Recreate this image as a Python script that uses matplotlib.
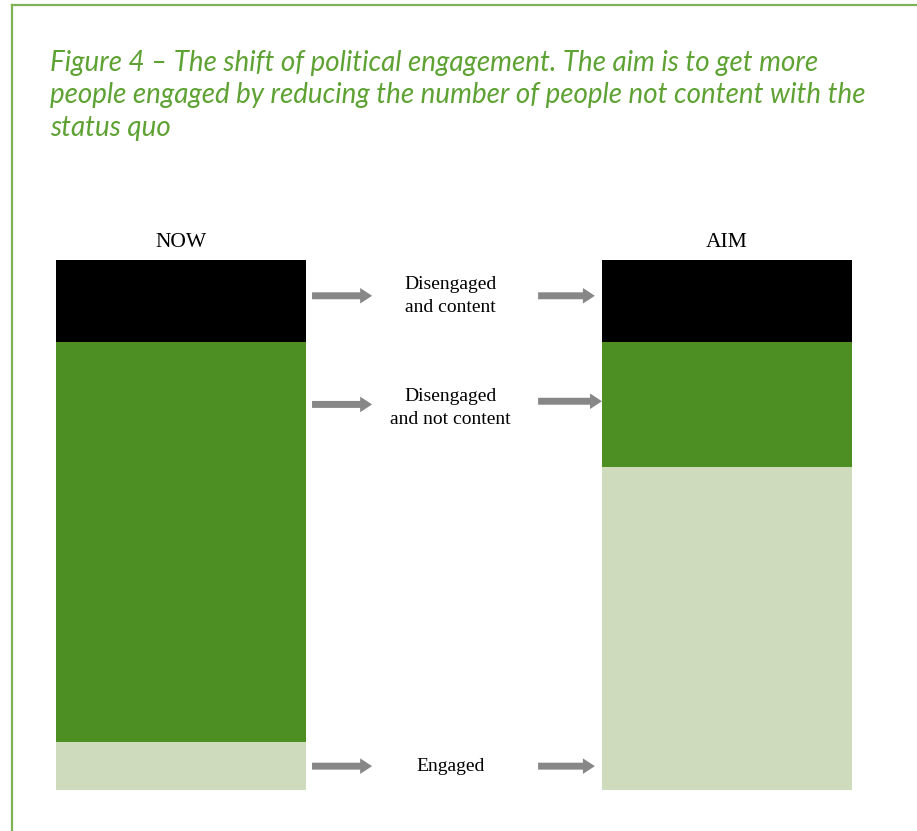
import matplotlib
matplotlib.use("Agg")
import matplotlib.pyplot as plt
from matplotlib.lines import Line2D

# values (share of people, %)
columns = ["NOW", "AIM"]
engaged = [9.0, 61.0]
not_content = [75.5, 23.5]
content = [15.5, 15.5]
labels = ["Disengaged\nand content", "Disengaged\nand not content", "Engaged"]

title = ("Figure 4 \u2013 The shift of political engagement. The aim is to get more\n"
         "people engaged by reducing the number of people not content with the\n"
         "status quo")

c_content = "#000000"
c_not = "#4d8f22"
c_eng = "#cedcbd"
c_arrow = "#878787"
c_title = "#5ea233"

W, H = 917, 831
fig = plt.figure(figsize=(W / 100, H / 100), dpi=100)

# frame lines (top and left)
fig.add_artist(Line2D([12 / W, 12 / W], [0, 1 - 5 / H], color="#7db354", lw=1.6))
fig.add_artist(Line2D([12 / W, 1], [1 - 5 / H, 1 - 5 / H], color="#7db354", lw=1.6))

fig.text(50 / W, 1 - 50 / H, title, color=c_title, fontsize=20, family="Lato",
         style="italic", va="top", ha="left", linespacing=1.3)

ax = fig.add_axes([0, 41 / H, 1, 530 / H])
x = [0, 1]
wd = 250 / 546
ax.bar(x, engaged, width=wd, color=c_eng)
ax.bar(x, not_content, width=wd, bottom=engaged, color=c_not)
bot2 = [e + n for e, n in zip(engaged, not_content)]
ax.bar(x, content, width=wd, bottom=bot2, color=c_content)
ax.set_xlim(-181 / 546, 1 + 190 / 546)
ax.set_ylim(0, 100)
ax.axis("off")

for i, name in enumerate(columns):
    ax.text(x[i], 101.5, name, ha="center", va="bottom", fontsize=15.5,
            family="Liberation Serif")

# rows: middle of top block, middle of AIM green, middle of NOW engaged
rows = [bot2[0] + content[0] / 2 + 1,
        engaged[1] + not_content[1] / 2,
        engaged[0] / 2]
label_y = [rows[0], rows[1] - 0.7, rows[2]]
ends = [0.758, 0.771, 0.758]

style = "simple,head_length=0.43,head_width=0.56,tail_width=0.25"
for i, lab in enumerate(labels):
    ax.annotate("", xy=(0.350, rows[i]), xytext=(0.240, rows[i]),
                arrowprops=dict(arrowstyle=style, color=c_arrow, mutation_scale=20,
                                shrinkA=0, shrinkB=0, lw=0))
    yr = rows[i] + (0.6 if i == 1 else 0)
    ax.annotate("", xy=(ends[i], yr), xytext=(0.654, yr),
                arrowprops=dict(arrowstyle=style, color=c_arrow, mutation_scale=20,
                                shrinkA=0, shrinkB=0, lw=0))
    ax.text(0.493, label_y[i], lab, ha="center", va="center", fontsize=14,
            family="Liberation Serif", linespacing=1.45)

fig.savefig("out.png", dpi=100)
